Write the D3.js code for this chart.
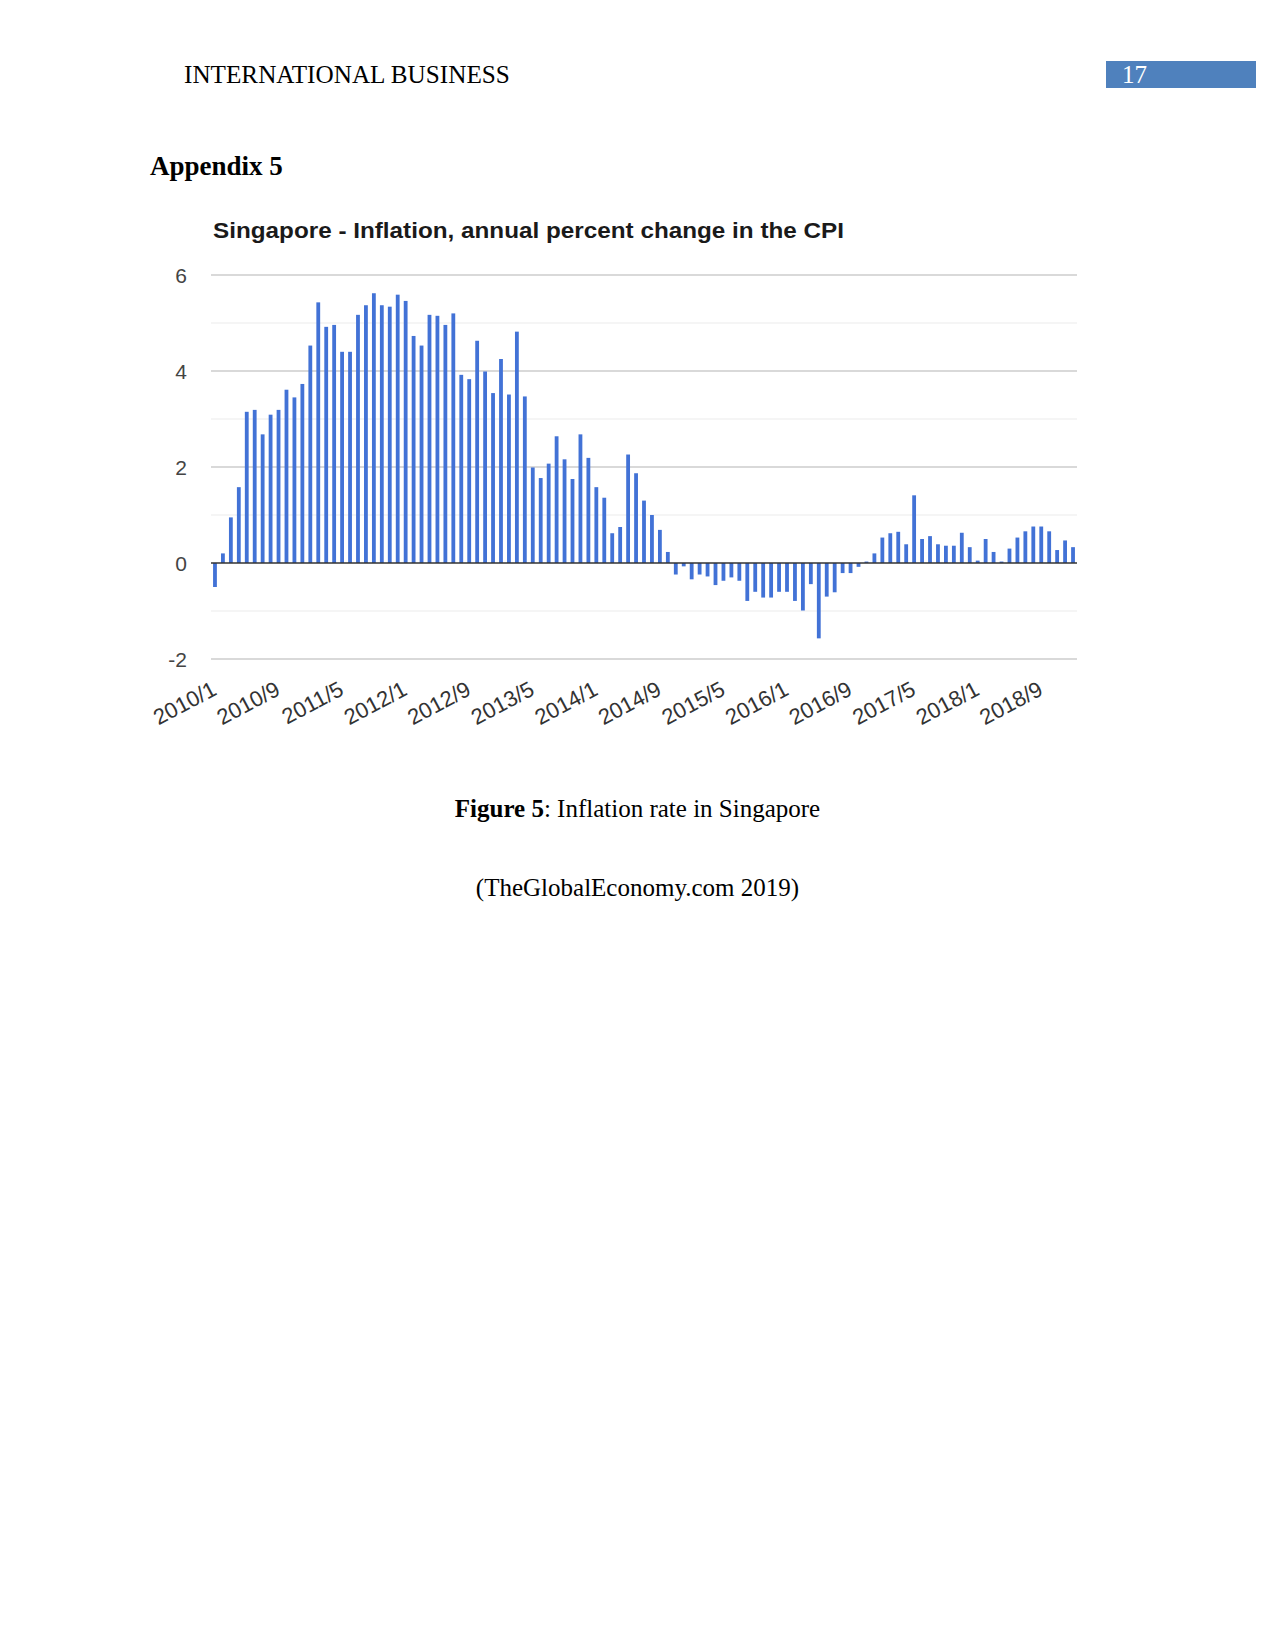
<!DOCTYPE html>
<html>
<head>
<meta charset="utf-8">
<script src="https://cdn.jsdelivr.net/npm/d3@7"></script>
<style>
  html, body { margin: 0; padding: 0; background: #ffffff; }
  svg { display: block; }
</style>
</head>
<body>
<svg id="page" width="1275" height="1650"></svg>
<script>
// ---- Data ----
const chartTitle = "Singapore - Inflation, annual percent change in the CPI";
const inflation = [
  -0.50, 0.20, 0.95, 1.58, 3.15, 3.19, 2.68, 3.09, 3.19, 3.61, 3.45, 3.73, 4.53, 5.43, 4.92, 4.96, 4.40, 4.40, 5.17,
  5.37, 5.62, 5.37, 5.34, 5.59, 5.46, 4.73, 4.53, 5.17, 5.15, 4.96, 5.20, 3.92, 3.83, 4.63, 3.99, 3.54, 4.25,
  3.51, 4.82, 3.47, 1.99, 1.77, 2.07, 2.64, 2.16, 1.75, 2.68, 2.19, 1.58, 1.36, 0.62, 0.75, 2.26, 1.87, 1.30, 1.00,
  0.69, 0.23, -0.24, -0.07, -0.34, -0.24, -0.28, -0.46, -0.37, -0.30, -0.37, -0.79, -0.60, -0.72, -0.72, -0.60, -0.60, -0.79,
  -0.99, -0.44, -1.57, -0.70, -0.61, -0.21, -0.21, -0.08, 0.03, 0.20, 0.53, 0.62, 0.65, 0.39, 1.41, 0.50, 0.56, 0.39, 0.36, 0.36, 0.63, 0.33,
  0.05, 0.50, 0.23, 0.03, 0.30, 0.53, 0.66, 0.76, 0.76, 0.66, 0.27, 0.47, 0.33
];
// month categories, starting 2010/1
const startYear = 2010, startMonth = 1;
const categories = inflation.map((_, i) => {
  const m = startMonth - 1 + i;
  return (startYear + Math.floor(m / 12)) + "/" + (m % 12 + 1);
});
const tickLabels = ["2010/1","2010/9","2011/5","2012/1","2012/9","2013/5","2014/1","2014/9","2015/5","2016/1","2016/9","2017/5","2018/1","2018/9"];
const majorTicks = [-2, 0, 2, 4, 6];
const minorTicks = [-1, 1, 3, 5];

// ---- Page ----
const svg = d3.select("#page");
svg.append("rect").attr("width", 1275).attr("height", 1650).attr("fill", "#fff");

const serif = "'Liberation Serif', 'Times New Roman', serif";
const sans = "'Liberation Sans', Arial, sans-serif";

svg.append("text").attr("x", 184).attr("y", 83)
  .attr("font-family", serif).attr("font-size", 25.2).attr("fill", "#000")
  .text("INTERNATIONAL BUSINESS");

svg.append("rect").attr("x", 1106).attr("y", 61).attr("width", 150).attr("height", 27).attr("fill", "#4f81bd");
svg.append("text").attr("x", 1122).attr("y", 83)
  .attr("font-family", serif).attr("font-size", 25).attr("fill", "#fff")
  .text("17");

svg.append("text").attr("x", 150).attr("y", 175)
  .attr("font-family", serif).attr("font-size", 27).attr("font-weight", "bold").attr("fill", "#000")
  .text("Appendix 5");

// ---- Chart ----
const plot = { left: 211, right: 1077, top: 275, bottom: 659 };

const x = d3.scaleBand()
  .domain(categories)
  .range([plot.left, plot.right])
  .paddingInner(0.52)
  .paddingOuter(0.26);

const y = d3.scaleLinear().domain([-2, 6]).range([plot.bottom, plot.top]);

const title = svg.append("text").attr("x", 213).attr("y", 238)
  .attr("font-family", sans).attr("font-size", 22).attr("font-weight", "bold").attr("fill", "#1a1a1a")
  .text(chartTitle);
title.attr("textLength", 631).attr("lengthAdjust", "spacingAndGlyphs");

const g = svg.append("g");

// minor gridlines
g.selectAll("line.minor").data(minorTicks).join("line")
  .attr("class", "minor")
  .attr("x1", plot.left).attr("x2", plot.right)
  .attr("y1", d => y(d)).attr("y2", d => y(d))
  .attr("stroke", "#ebebeb").attr("stroke-width", 1.2);

// major gridlines
g.selectAll("line.major").data(majorTicks.filter(d => d !== 0)).join("line")
  .attr("class", "major")
  .attr("x1", plot.left).attr("x2", plot.right)
  .attr("y1", d => y(d)).attr("y2", d => y(d))
  .attr("stroke", "#cccccc").attr("stroke-width", 1.4);

// y axis labels
const yAxis = d3.axisLeft(y).tickValues(majorTicks).tickSize(0).tickPadding(0)
  .tickFormat(d => String(d));
const yg = g.append("g").attr("transform", `translate(187,0)`).call(yAxis);
yg.select(".domain").remove();
yg.selectAll("text")
  .attr("font-family", sans).attr("font-size", 21).attr("fill", "#444")
  .attr("dy", "0.36em");

// bars
g.selectAll("rect.bar").data(inflation).join("rect")
  .attr("class", "bar")
  .attr("x", (d, i) => x(categories[i]))
  .attr("width", x.bandwidth())
  .attr("y", d => Math.min(y(d), y(0)))
  .attr("height", d => Math.abs(y(d) - y(0)))
  .attr("fill", "#4272d6");

// zero baseline
g.append("line")
  .attr("x1", plot.left).attr("x2", plot.right)
  .attr("y1", y(0)).attr("y2", y(0))
  .attr("stroke", "#333").attr("stroke-width", 1.5);

// x axis labels (every 8th month)
const tickCats = categories.filter(c => tickLabels.includes(c));
const xAxis = d3.axisBottom(x).tickValues(tickCats).tickSize(0).tickPadding(0);
const xg = g.append("g").attr("transform", `translate(0,${plot.bottom})`).call(xAxis);
xg.select(".domain").remove();
xg.selectAll("text")
  .attr("font-family", sans).attr("font-size", 22).attr("fill", "#333")
  .attr("text-anchor", "end")
  .attr("dy", null).attr("y", null)
  .attr("transform", "translate(3,35) rotate(-28)");

// ---- Caption ----
const cap = svg.append("text").attr("x", 637.5).attr("y", 817).attr("text-anchor", "middle")
  .attr("font-family", serif).attr("font-size", 25).attr("fill", "#000");
cap.append("tspan").attr("font-weight", "bold").text("Figure 5");
cap.append("tspan").text(": Inflation rate in Singapore");

svg.append("text").attr("x", 637.5).attr("y", 896).attr("text-anchor", "middle")
  .attr("font-family", serif).attr("font-size", 25).attr("fill", "#000")
  .text("(TheGlobalEconomy.com 2019)");
</script>
</body>
</html>
